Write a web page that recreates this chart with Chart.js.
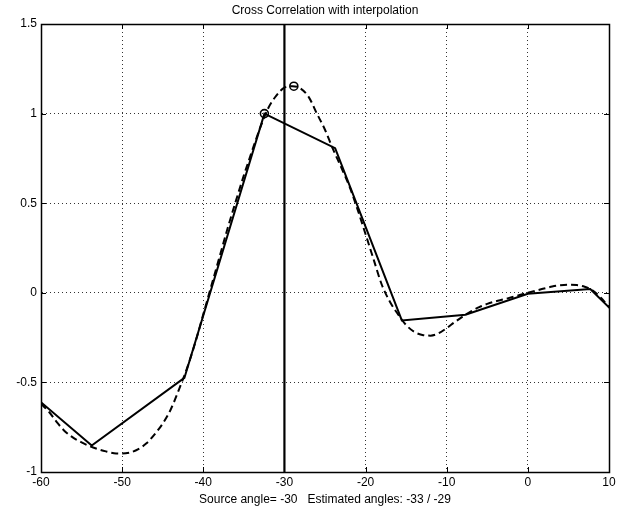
<!DOCTYPE html>
<html>
<head>
<meta charset="utf-8">
<script src="https://cdn.jsdelivr.net/npm/chart.js@4/dist/chart.umd.min.js"></script>
<style>
html,body{margin:0;padding:0;background:#fff;}
#c{display:block;}
</style>
</head>
<body>
<canvas id="c" width="635" height="508"></canvas>
<script>
// ---- data ----
const titleText = "Cross Correlation with interpolation";
const xLabelText = "Source angle= -30   Estimated angles: -33 / -29";

// sampled correlation (solid)
const sampleAngles = [-70.0, -53.75, -42.33, -32.47, -23.75, -15.53, -7.69, 0, 7.69, 15.53];
const sampleValues = [-0.225, -0.852, -0.475, 1.0, 0.807, -0.154, -0.122, -0.005, 0.021, -0.325];

// interpolated correlation (dashed)
const interpAngles = [-60,-59,-58,-57,-56,-55,-54,-53,-52,-51,-50,-49,-48,-47,-46,-45,-44,-43,-42,-41,-40,-39,-38,-37,-36,-35,-34,-33,-32,-31,-30,-29,-28,-27,-26,-25,-24,-23,-22,-21,-20,-19,-18,-17,-16,-15,-14,-13,-12,-11,-10,-9,-8,-7,-6,-5,-4,-3,-2,-1,0,1,2,3,4,5,6,7,8,9,10];
const interpValues = [-0.62,-0.665,-0.725,-0.775,-0.81,-0.835,-0.856,-0.872,-0.885,-0.895,-0.897,-0.891,-0.872,-0.84,-0.79,-0.73,-0.65,-0.54,-0.42,-0.28,-0.12,0.04,0.2,0.36,0.51,0.655,0.79,0.92,1.03,1.10,1.145,1.153,1.14,1.092,1.0,0.91,0.80,0.70,0.595,0.467,0.327,0.185,0.045,-0.05,-0.12,-0.18,-0.218,-0.235,-0.239,-0.226,-0.197,-0.163,-0.132,-0.104,-0.08,-0.062,-0.048,-0.037,-0.025,-0.012,0.0,0.012,0.024,0.035,0.042,0.045,0.043,0.034,0.012,-0.028,-0.08];

// estimated peaks (circles)
const peakAngles = [-32.47, -28.84];
const peakValues = [1.0, 1.153];

// source angle line
const sourceAngle = -30;
const sourceLineY = [-1, 1.5];

// ticks
const xTicks = [-60, -50, -40, -30, -20, -10, 0, 10];
const xTickLabels = ["-60", "-50", "-40", "-30", "-20", "-10", "0", "10"];
const yTicks = [-1, -0.5, 0, 0.5, 1, 1.5];
const yTickLabels = ["-1", "-0.5", "0", "0.5", "1", "1.5"];

const FONT = "'Liberation Sans', Arial, Helvetica, sans-serif";

const zip = (xs, ys) => xs.map((x, i) => ({x: x, y: ys[i]}));

const frameTicks = {
  id: 'frameTicks',
  afterDraw(chart) {
    const {ctx, chartArea: a, scales} = chart;
    const L = 5;
    ctx.save();
    ctx.strokeStyle = '#000';
    ctx.lineWidth = 1;
    ctx.beginPath();
    xTicks.forEach(v => {
      const p = Math.round(scales.x.getPixelForValue(v)) + 0.5;
      ctx.moveTo(p, a.bottom); ctx.lineTo(p, a.bottom - L);
      ctx.moveTo(p, a.top); ctx.lineTo(p, a.top + L);
    });
    yTicks.forEach(v => {
      const p = Math.round(scales.y.getPixelForValue(v)) + 0.5;
      ctx.moveTo(a.left, p); ctx.lineTo(a.left + L, p);
      ctx.moveTo(a.right, p); ctx.lineTo(a.right - L, p);
    });
    ctx.stroke();
    ctx.lineWidth = 1.5;
    ctx.strokeRect(Math.round(a.left) + 0.5, Math.round(a.top) + 0.5, Math.round(a.right - a.left), Math.round(a.bottom - a.top));
    ctx.restore();
  }
};

new Chart(document.getElementById('c'), {
  type: 'line',
  data: {
    datasets: [
      {
        label: 'peaks',
        data: zip(peakAngles, peakValues),
        showLine: false,
        pointStyle: 'circle',
        pointRadius: 4,
        pointBorderWidth: 1.6,
        pointBorderColor: '#000',
        pointBackgroundColor: 'rgba(0,0,0,0)'
      },
      {
        label: 'source',
        data: sourceLineY.map(y => ({x: sourceAngle, y: y})),
        borderColor: '#000',
        borderWidth: 2.2,
        pointRadius: 0,
        fill: false
      },
      {
        label: 'samples',
        data: zip(sampleAngles, sampleValues),
        borderColor: '#000',
        borderWidth: 2,
        pointRadius: 0,
        tension: 0,
        fill: false
      },
      {
        label: 'interpolated',
        data: zip(interpAngles, interpValues),
        borderColor: '#000',
        borderWidth: 2,
        borderDash: [7, 4],
        pointRadius: 0,
        cubicInterpolationMode: 'monotone',
        fill: false
      }
    ]
  },
  options: {
    responsive: false,
    animation: false,
    devicePixelRatio: 1,
    layout: {padding: {left: 0, right: 26, top: 0, bottom: 0}},
    plugins: {
      legend: {display: false},
      tooltip: {enabled: false},
      title: {display: false}
    },
    scales: {
      x: {
        type: 'linear',
        min: -60, max: 10,
        afterBuildTicks: s => { s.ticks = xTicks.map(v => ({value: v})); },
        afterFit: s => { s.height = 36; },
        ticks: {
          color: '#000',
          font: {family: FONT, size: 12},
          padding: 3,
          maxRotation: 0,
          autoSkip: false,
          callback: (v) => xTickLabels[xTicks.indexOf(v)]
        },
        grid: {color: '#333', lineWidth: 1, drawTicks: false},
        border: {display: true, color: '#000', width: 1, dash: [1, 3]},
        title: {
          display: true,
          text: xLabelText,
          color: '#000',
          font: {family: FONT, size: 12},
          padding: {top: 1, bottom: 1}
        }
      },
      xTop: {
        type: 'linear',
        position: 'top',
        min: -60, max: 10,
        afterFit: s => { s.height = 24; },
        ticks: {display: false},
        grid: {display: false, drawTicks: false},
        border: {display: false},
        title: {
          display: true,
          text: titleText,
          color: '#000',
          font: {family: FONT, size: 12},
          padding: {top: 3, bottom: 6}
        }
      },
      y: {
        type: 'linear',
        min: -1, max: 1.5,
        afterBuildTicks: s => { s.ticks = yTicks.map(v => ({value: v})); },
        afterFit: s => { s.width = 41; },
        ticks: {
          color: '#000',
          font: {family: FONT, size: 12},
          padding: 4,
          autoSkip: false,
          callback: (v) => yTickLabels[yTicks.indexOf(v)]
        },
        grid: {color: '#333', lineWidth: 1, drawTicks: false},
        border: {display: true, color: '#000', width: 1, dash: [1, 3]}
      }
    }
  },
  plugins: [frameTicks]
});
</script>
</body>
</html>
